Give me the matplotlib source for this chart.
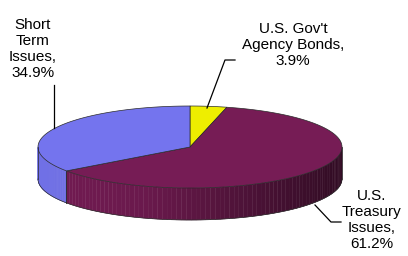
import numpy as np
import matplotlib.pyplot as plt
from matplotlib.patches import Polygon
from matplotlib.colors import to_rgb

plt.rcParams['font.family'] = ['Liberation Sans', 'DejaVu Sans']

# data
labels = ["U.S. Gov't\nAgency Bonds,\n3.9%", "U.S.\nTreasury\nIssues,\n61.2%", "Short\nTerm\nIssues,\n34.9%"]
values = [3.9, 61.2, 34.9]
colors = ['#EEEE00', '#761C55', '#7474EE']

# pie geometry (pixel space, y down)
cx, cy, rx, ry, depth = 190, 147, 152, 41, 32

def pt(theta, dy=0):
    # theta in degrees, clockwise from 12 o'clock
    t = np.radians(theta)
    return cx + rx * np.sin(t), cy - ry * np.cos(t) + dy

fig = plt.figure(figsize=(4.08, 2.56), dpi=100)
ax = fig.add_axes([0, 0, 1, 1])
ax.set_xlim(0, 408)
ax.set_ylim(256, 0)
ax.axis('off')

bounds = np.concatenate([[0], np.cumsum(values) / sum(values) * 360])
edge = '#2a2a2a'

# sides (front half only, 90..270 deg)
for i, col in enumerate(colors):
    a0, a1 = max(bounds[i], 90), min(bounds[i + 1], 270)
    if a1 <= a0:
        continue
    ts = np.linspace(a0, a1, 80)
    base = np.array(to_rgb(col))
    for t0, t1 in zip(ts[:-1], ts[1:]):
        x0, y0 = pt(t0)
        x1, y1 = pt(t1)
        xm = (x0 + x1) / 2
        f = np.interp(xm, [cx - rx, cx - 0.3 * rx, cx + rx], [0.97, 0.9, 0.42])
        c = np.clip(base * f, 0, 1)
        ax.add_patch(Polygon([(x0, y0), (x1, y1), (x1, y1 + depth), (x0, y0 + depth)],
                             closed=True, fc=c, ec=c, lw=0.3))
    # outline of side
    xs, ys = pt(ts)
    ax.plot(xs, ys + depth, color=edge, lw=0.5)
    for a in (a0, a1):
        if 90 < a < 270:
            x, y = pt(a)
            ax.plot([x, x], [y, y + depth], color=edge, lw=0.5)
xl, yl = pt(270)
ax.plot([xl, xl], [yl, yl + depth], color=edge, lw=0.5)
xr, yr = pt(90)
ax.plot([xr, xr], [yr, yr + depth], color=edge, lw=0.5)

# top wedges
for i, col in enumerate(colors):
    ts = np.linspace(bounds[i], bounds[i + 1], 120)
    xs, ys = pt(ts)
    poly = np.column_stack([np.r_[cx, xs], np.r_[cy, ys]])
    ax.add_patch(Polygon(poly, closed=True, fc=col, ec=edge, lw=0.5))

# labels and leader lines
fs, ls = 11, 1.2
ax.text(293, 45, labels[0], ha='center', va='center', fontsize=fs, linespacing=ls)
ax.plot([235, 225, 207], [60, 60, 108], color='black', lw=0.9)

ax.text(372, 220, labels[1], ha='center', va='center', fontsize=fs, linespacing=ls)
ax.plot([341, 331, 315], [222, 222, 205], color='black', lw=0.9)

ax.text(33, 49, labels[2], ha='center', va='center', fontsize=fs, linespacing=ls)
ax.plot([54, 54], [85, 128], color='black', lw=0.9)

fig.savefig('out.png', dpi=100)
